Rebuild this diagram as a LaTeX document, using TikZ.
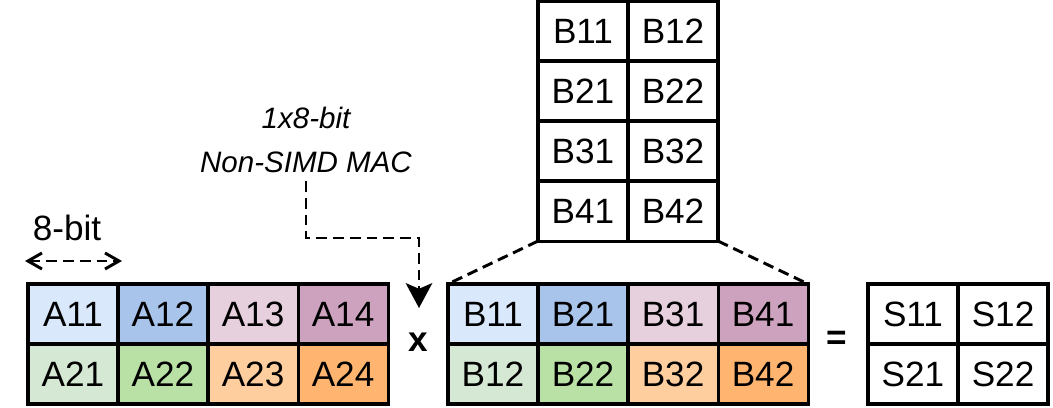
\documentclass[tikz,border=0pt]{standalone}
\usepackage{fontspec}
\setmainfont{Liberation Sans}
\usetikzlibrary{positioning, arrows.meta}
\definecolor{blueL}{HTML}{DAE8FC}
\definecolor{blueD}{HTML}{A9C4EB}
\definecolor{pinkL}{HTML}{E6D0DE}
\definecolor{pinkD}{HTML}{CDA2BE}
\definecolor{greenL}{HTML}{D5E8D4}
\definecolor{greenD}{HTML}{B9E0A5}
\definecolor{orangeL}{HTML}{FFCE9F}
\definecolor{orangeD}{HTML}{FFB570}
\tikzset{
x=0.025cm, y=-0.025cm, % one unit is one pixel of the sketch, y going down
cell/.style={draw, line width=2.2pt, minimum width=2.25cm, minimum height=1.5cm,
  inner sep=0pt, outer sep=0pt, font=\fontsize{25}{30}\selectfont}, % one matrix entry
note/.style={align=center, inner sep=0.2cm, font=\fontsize{21}{31}\selectfont\itshape}, % the MAC label
dashline/.style={line width=2.1pt, dash pattern=on 0.27cm off 0.15cm}, % dashed guide lines
op/.style={font=\fontsize{25}{30}\selectfont\bfseries}, % x and = signs
}

\begin{document}
\begin{tikzpicture}
      \useasboundingbox (0,0) rectangle (1053,408);

      % matrix B, upright
      \node[cell] (b11) at (583,31) {B11};
      \node[cell, right=0pt of b11] (b12) {B12};
      \node[cell, below=0pt of b11] (b21) {B21};
      \node[cell, right=0pt of b21] (b22) {B22};
      \node[cell, below=0pt of b21] (b31) {B31};
      \node[cell, right=0pt of b31] (b32) {B32};
      \node[cell, below=0pt of b31] (b41) {B41};
      \node[cell, right=0pt of b41] (b42) {B42};

      % matrix A
      \node[cell, fill=blueL] (a11) at (73,314) {A11};
      \node[cell, fill=blueD, right=0pt of a11] (a12) {A12};
      \node[cell, fill=pinkL, right=0pt of a12] (a13) {A13};
      \node[cell, fill=pinkD, right=0pt of a13] (a14) {A14};
      \node[cell, fill=greenL, below=0pt of a11] (a21) {A21};
      \node[cell, fill=greenD, right=0pt of a21] (a22) {A22};
      \node[cell, fill=orangeL, right=0pt of a22] (a23) {A23};
      \node[cell, fill=orangeD, right=0pt of a23] (a24) {A24};

      % matrix B, laid out as two rows
      \node[cell, fill=blueL] (f11) at (493,314) {B11};
      \node[cell, fill=blueD, right=0pt of f11] (f21) {B21};
      \node[cell, fill=pinkL, right=0pt of f21] (f31) {B31};
      \node[cell, fill=pinkD, right=0pt of f31] (f41) {B41};
      \node[cell, fill=greenL, below=0pt of f11] (f12) {B12};
      \node[cell, fill=greenD, right=0pt of f12] (f22) {B22};
      \node[cell, fill=orangeL, right=0pt of f22] (f32) {B32};
      \node[cell, fill=orangeD, right=0pt of f32] (f42) {B42};

      % result S
      \node[cell] (s11) at (913,314) {S11};
      \node[cell, right=0pt of s11] (s12) {S12};
      \node[cell, below=0pt of s11] (s21) {S21};
      \node[cell, right=0pt of s21] (s22) {S22};

      % signs
      \node[op] (times) at (418,342) {x};
      \node[op] (equals) at (837,340) {=};

      % 8-bit width
      \node[font=\fontsize{25}{30}\selectfont] (width) at (67,228) {8-bit};
      \coordinate (wl) at (25,261);
      \coordinate (wr) at (122,261);
      \draw[dashline, {Straight Barb[length=0.35cm, width=0.4cm]}-{Straight Barb[length=0.35cm, width=0.4cm]}] (wl) -- (wr);

      % MAC note and its arrow
      \node[note] (mac) at (306,140) {1x8-bit\\Non-SIMD MAC};
      \coordinate (bend) at (306,238);
      \coordinate (tip) at (419,308);
      \draw[dashline, -{Stealth[length=0.62cm, width=0.66cm, inset=0.14cm]}] (mac.south) -- (bend) -| (tip);

      % unfolding of B
      \draw[dashline] (b41.south west) -- (f11.north west);
      \draw[dashline] (b42.south east) -- (f41.north east);
    \end{tikzpicture}
\end{document}
